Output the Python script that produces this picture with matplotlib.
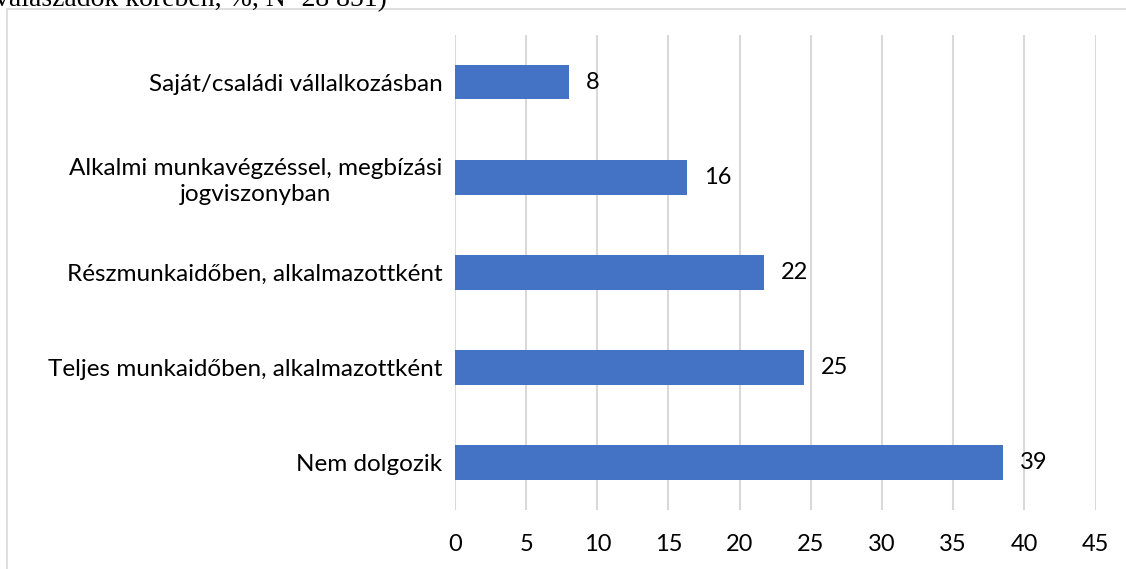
import matplotlib.pyplot as plt
from matplotlib.patches import Rectangle

# data
categories = ["Nem dolgozik",
              "Teljes munkaidőben, alkalmazottként",
              "Részmunkaidőben, alkalmazottként",
              "Alkalmi munkavégzéssel, megbízási\njogviszonyban",
              "Saját/családi vállalkozásban"]
values = [38.5, 24.5, 21.7, 16.3, 8.0]
value_labels = ["39", "25", "22", "16", "8"]
xticks = [0, 5, 10, 15, 20, 25, 30, 35, 40, 45]

plt.rcParams['font.family'] = ['Lato', 'DejaVu Sans']

fig = plt.figure(figsize=(11.26, 5.69), dpi=100)
ax = fig.add_axes([0.404, 0.1037, 0.569, 0.835])

ypos = list(range(len(categories)))
ax.barh(ypos, values, height=0.36, color='#4472C4', zorder=3)
for y, v, lab in zip(ypos, values, value_labels):
    ax.annotate(lab, (v, y), xytext=(12, 0), textcoords='offset points',
                va='center', ha='left', fontsize=17, color='black')

ax.set_xlim(0, 45)
ax.set_ylim(-0.5, len(categories) - 0.5)
ax.set_xticks(xticks)
ax.set_yticks(ypos)
ax.set_yticklabels(categories, fontsize=17.5, multialignment='center',
                   linespacing=1.25)
ax.tick_params(axis='x', labelsize=17, length=0, pad=17)
ax.tick_params(axis='y', length=0, pad=9)
ax.grid(axis='x', color='#d9d9d9', linewidth=1.5, zorder=0)
for s in ax.spines.values():
    s.set_visible(False)

# chart frame and the cut off caption above it
fig.patches.append(Rectangle((7 / 1126, -0.05), 1.1, 1 - 9 / 569 + 0.05,
                             transform=fig.transFigure, fill=False,
                             edgecolor='#d9d9d9', linewidth=1.2))
fig.text(-0.004, 0.990, "válaszadók körében, %, N=28 851)", fontsize=20,
         family='Liberation Serif', va='baseline', ha='left')

fig.savefig('out.png', dpi=100)
